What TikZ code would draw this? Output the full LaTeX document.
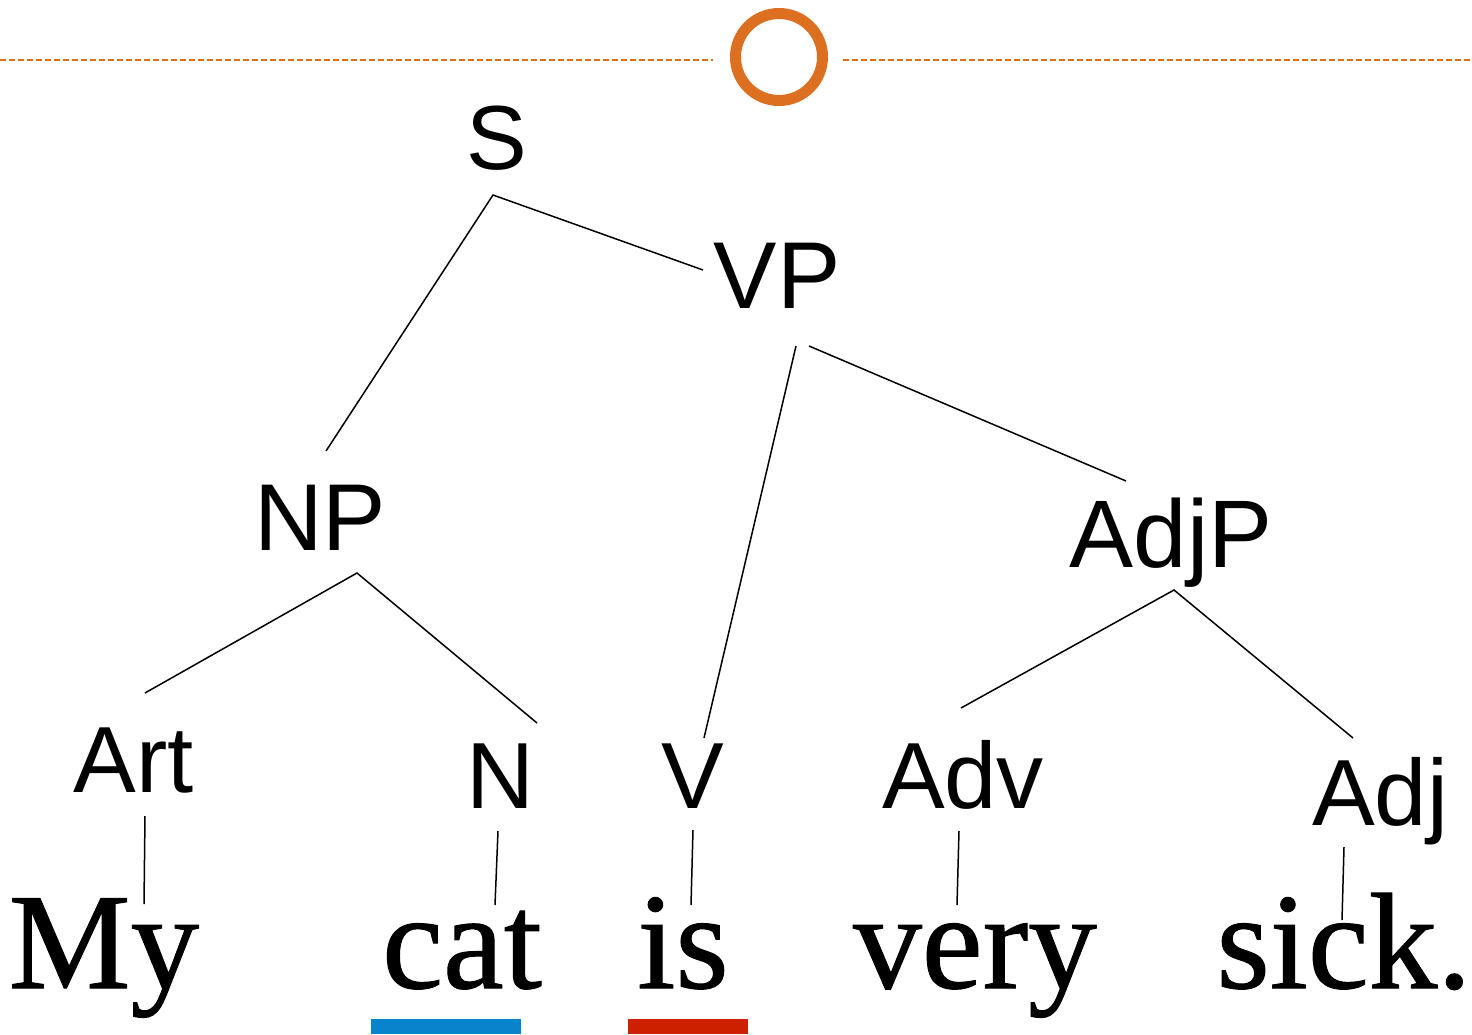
\documentclass[tikz,border=0pt]{standalone}
\usepackage{fontspec}
\setmainfont{Liberation Serif}
\setsansfont{Liberation Sans}
\newfontfamily\heavyserif[FakeBold=0.8]{Liberation Serif}
\definecolor{orng}{RGB}{221,111,32}
\definecolor{ublue}{RGB}{8,132,204}
\definecolor{ured}{RGB}{204,32,0}
\begin{document}
\begin{tikzpicture}[x=1pt,y=-1pt,
  cat/.style={anchor=base,inner sep=0pt,font=\sffamily\fontsize{94}{100}\selectfont},
  word/.style={anchor=base,inner sep=0pt,font=\heavyserif\fontsize{137}{140}\selectfont},
  edge/.style={line width=1.5pt,black},
  deco/.style={orng,line width=1.5pt,dash pattern=on 6pt off 3pt}]
\useasboundingbox[fill=white] (0,0) rectangle (1472,1035);
% decoration at top
\node[draw=orng,line width=11pt,circle,minimum size=87pt,inner sep=0pt] (ring) at (779,57) {};
\coordinate (dl0) at (0,60); \coordinate (dl1) at (713,60);
\coordinate (dr0) at (843,60); \coordinate (dr1) at (1472,60);
\draw[deco] (dl0) -- (dl1);
\draw[deco] (dr0) -- (dr1);
% category labels
\node[cat,font=\sffamily\fontsize{91}{100}\selectfont] (S) at (497,170) {S};
\node[cat,font=\sffamily\fontsize{95}{100}\selectfont] (VP) at (777,308) {VP};
\node[cat,font=\sffamily\fontsize{95}{100}\selectfont] (NP) at (320,550) {NP};
\node[cat,font=\sffamily\fontsize{96}{100}\selectfont] (AdjP) at (1171,567) {AdjP};
\node[cat] (Art) at (134,792) {Art};
\node[cat] (N) at (500,808) {N};
\node[cat] (V) at (693,808) {V};
\node[cat] (Adv) at (963,808) {Adv};
\node[cat] (Adj) at (1380,825) {Adj};
% words
\node[word] (My) at (104,988) {My};
\node[word] (catw) at (462,988) {cat};
\node[word] (is) at (683,988) {is};
\node[word] (very) at (975,988) {very};
\node[word] (sick) at (1344,988) {sick.};
% underlines
\fill[ublue] (371,1019) rectangle (521,1034);
\fill[ured] (628,1019) rectangle (748,1034);
% connector end points
\coordinate (Sb) at (493,195);
\coordinate (NPt) at (326,451);
\coordinate (VPl) at (703,270);
\coordinate (VPb1) at (796,346);
\coordinate (VPb2) at (809,346);
\coordinate (Vt) at (704,738);
\coordinate (AdjPt) at (1126,481);
\coordinate (NPb) at (357,573);
\coordinate (Artt) at (145,693);
\coordinate (Nt) at (537,723);
\coordinate (AdjPb) at (1174,590);
\coordinate (Advt) at (961,708);
\coordinate (Adjt) at (1353,738);
\coordinate (Artb) at (145,816); \coordinate (Myt) at (144,904);
\coordinate (Nb) at (498,831); \coordinate (catt) at (495,905);
\coordinate (Vb) at (693,830); \coordinate (ist) at (691,905);
\coordinate (Advb) at (959,831); \coordinate (veryt) at (957,905);
\coordinate (Adjb) at (1344,847); \coordinate (sickt) at (1342,920);
% tree edges
\draw[edge] (NPt) -- (Sb) -- (VPl);
\draw[edge] (VPb1) -- (Vt);
\draw[edge] (VPb2) -- (AdjPt);
\draw[edge] (Artt) -- (NPb) -- (Nt);
\draw[edge] (Advt) -- (AdjPb) -- (Adjt);
\draw[edge] (Artb) -- (Myt);
\draw[edge] (Nb) -- (catt);
\draw[edge] (Vb) -- (ist);
\draw[edge] (Advb) -- (veryt);
\draw[edge] (Adjb) -- (sickt);
\end{tikzpicture}
\end{document}
